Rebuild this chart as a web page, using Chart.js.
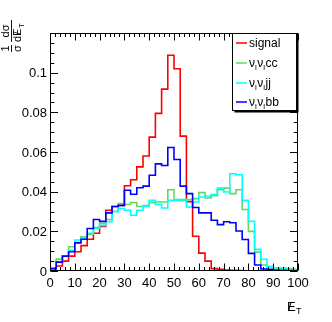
<!DOCTYPE html>
<html>
<head>
<meta charset="utf-8">
<script src="https://cdn.jsdelivr.net/npm/chart.js@4.4.0/dist/chart.umd.min.js"></script>
<style>
html,body{margin:0;padding:0;background:#fff;}
canvas{display:block;}
</style>
</head>
<body>
<canvas id="c" width="332" height="322"></canvas>
<script>
// ---- data ----
const binEdges = [0,2.5,5,7.5,10,12.5,15,17.5,20,22.5,25,27.5,30,32.5,35,37.5,40,42.5,45,47.5,50,52.5,55,57.5,60,62.5,65,67.5,70,72.5,75,77.5,80,82.5,85,87.5,90,92.5,95,97.5,100];
const signal = [0.001,0.0025,0.005,0.0075,0.0097,0.0128,0.016,0.019,0.0225,0.0306,0.0325,0.033,0.043,0.046,0.0525,0.058,0.0675,0.0795,0.0917,0.1088,0.102,0.068,0.035,0.0175,0.009,0.005,0.0012,0.0008,0.0005,0.0003,0.0002,0.0001,0.0001,0,0,0,0,0,0,0];
const nunucc = [0.0015,0.006,0.0075,0.0122,0.0144,0.0172,0.0186,0.0219,0.024,0.026,0.030,0.034,0.0335,0.0345,0.0325,0.033,0.0345,0.0348,0.0348,0.041,0.036,0.0356,0.036,0.0365,0.0395,0.0368,0.038,0.041,0.0418,0.039,0.041,0.031,0.020,0.0095,0.003,0.0022,0.0015,0.0015,0.0012,0.0008];
const nunujj = [0.0008,0.0047,0.0075,0.0105,0.0156,0.0164,0.019,0.0214,0.023,0.0248,0.030,0.0315,0.0306,0.0281,0.0306,0.0326,0.0356,0.0335,0.0318,0.0356,0.0356,0.036,0.0323,0.0348,0.0373,0.0378,0.0385,0.0418,0.0398,0.049,0.0485,0.0356,0.0251,0.0109,0.0059,0.0022,0.0015,0.0012,0.0008,0.0005];
const nunubb = [0.0012,0.0045,0.0075,0.0097,0.0142,0.016,0.0214,0.026,0.025,0.0293,0.0325,0.0331,0.0407,0.0387,0.042,0.0428,0.0483,0.054,0.0532,0.0623,0.0562,0.0428,0.039,0.032,0.0293,0.0293,0.0256,0.0234,0.0248,0.0243,0.0202,0.0159,0.0089,0.003,0.001,0.0008,0.0005,0.0003,0.0002,0.0001];
const xTickValues = [0,10,20,30,40,50,60,70,80,90,100];
const xTickLabels = ['0','10','20','30','40','50','60','70','80','90','100'];
const yTickValues = [0,0.02,0.04,0.06,0.08,0.1];
const yTickLabels = ['0','0.02','0.04','0.06','0.08','0.1'];
const seriesNames = ['signal','ννcc','ννjj','ννbb'];
const seriesColors = ['#ff0000','#5fdc5f','#00ffff','#0000ff'];

function toSteps(vals){
  const pts = [];
  for (let i=0;i<vals.length;i++) pts.push({x:binEdges[i], y:vals[i]});
  pts.push({x:binEdges[vals.length], y:vals[vals.length-1]});
  return pts;
}

const FONT = '"Liberation Sans", Arial, sans-serif';

function drawNuLabel(ctx, x, y, suffix){
  let cx = x;
  for (let k=0;k<2;k++){
    ctx.font = '12px ' + FONT;
    ctx.fillText('ν', cx, y);
    cx += ctx.measureText('ν').width;
    ctx.font = '8px ' + FONT;
    ctx.fillText('l', cx, y+3);
    cx += ctx.measureText('l').width + 0.5;
  }
  ctx.font = '12px ' + FONT;
  ctx.fillText(suffix, cx, y);
}

const rootPlugin = {
  id: 'rootStyle',
  beforeDraw(chart){
    const ctx = chart.ctx;
    ctx.save(); ctx.fillStyle='#fff'; ctx.fillRect(0,0,chart.width,chart.height); ctx.restore();
  },
  afterDatasetsDraw(chart){
    const ctx = chart.ctx, ca = chart.chartArea, xs = chart.scales.x, ys = chart.scales.y;
    const L = Math.round(ca.left)+0.5, R = Math.round(ca.right)-0.5, T = Math.round(ca.top)+0.5, B = Math.round(ca.bottom)-0.5;
    ctx.save();
    ctx.strokeStyle = '#000'; ctx.lineWidth = 1;
    ctx.strokeRect(L, T, R-L, B-T);
    ctx.beginPath();
    for (let v=0; v<=100; v+=2){
      const px = Math.round(xs.getPixelForValue(v))+0.5;
      const len = (v%10===0) ? 7 : 3.5;
      ctx.moveTo(px, B); ctx.lineTo(px, B-len);
      ctx.moveTo(px, T); ctx.lineTo(px, T+len);
    }
    for (let k=0; k<=24; k++){
      const v = k*0.005;
      const py = Math.round(ys.getPixelForValue(v))+0.5;
      const len = (k%4===0) ? 7.5 : 3.8;
      ctx.moveTo(L, py); ctx.lineTo(L+len, py);
      ctx.moveTo(R, py); ctx.lineTo(R-len, py);
    }
    ctx.stroke();
    ctx.fillStyle = '#000';
    ctx.font = '13px ' + FONT;
    ctx.textAlign = 'center'; ctx.textBaseline = 'alphabetic';
    xTickValues.forEach((v,i)=>{
      ctx.fillText(xTickLabels[i], xs.getPixelForValue(v), 287);
    });
    ctx.textAlign = 'right';
    yTickValues.forEach((v,i)=>{
      ctx.fillText(yTickLabels[i], 47, ys.getPixelForValue(v)+4.6);
    });
    // x title: missing E_T
    ctx.textAlign = 'left';
    ctx.font = '13px ' + FONT;
    ctx.fillText('E', 287, 311);
    ctx.fillText('/', 288, 311);
    ctx.font = '9px ' + FONT;
    ctx.fillText('T', 296, 314);
    // y title
    ctx.save();
    ctx.translate(11, 36);
    ctx.rotate(-Math.PI/2);
    ctx.font = '11px ' + FONT;
    ctx.textAlign = 'center';
    const w1 = 7, gap = 3, w2 = 22;
    const start = -(w1+gap+w2)/2;
    const c1 = start + w1/2, c2 = start + w1 + gap + w2/2;
    ctx.fillText('1', c1, -2.5);
    ctx.fillText('σ', c1, 9.5);
    ctx.fillText('dσ', c2, -2.5);
    ctx.textAlign = 'left';
    const dx = c2 - w2/2;
    ctx.fillText('dE', dx, 9.5);
    const dw = ctx.measureText('d').width, dew = ctx.measureText('dE').width;
    ctx.fillText('/', dx+dw+1.5, 9.5);
    ctx.font = '7.5px ' + FONT;
    ctx.fillText('T', dx+dew+0.5, 12.5);
    ctx.lineWidth = 0.9;
    ctx.beginPath();
    ctx.moveTo(start, 0.5); ctx.lineTo(start+w1, 0.5);
    ctx.moveTo(start+w1+gap, 0.5); ctx.lineTo(start+w1+gap+w2, 0.5);
    ctx.stroke();
    ctx.restore();
    // legend box
    const lx = 232.5, ly = 33.5, lw = 64, lh = 77;
    ctx.fillStyle = '#000';
    ctx.fillRect(lx+2, ly+2, lw, lh);
    ctx.fillStyle = '#fff';
    ctx.fillRect(lx, ly, lw, lh);
    ctx.strokeStyle = '#000'; ctx.lineWidth = 1;
    ctx.strokeRect(lx, ly, lw, lh);
    const rows = [43, 63, 83, 102];
    ctx.textAlign = 'left';
    seriesNames.forEach((name,i)=>{
      ctx.strokeStyle = seriesColors[i]; ctx.lineWidth = 1.5;
      ctx.beginPath(); ctx.moveTo(236, rows[i]); ctx.lineTo(247, rows[i]); ctx.stroke();
      ctx.fillStyle = '#000';
      if (i===0){ ctx.font = '12px ' + FONT; ctx.fillText(name, 249, rows[i]+4.3); }
      else drawNuLabel(ctx, 249, rows[i]+4.3, name.slice(2));
    });
    ctx.restore();
  }
};

const datasets = [
  {label:'signal', data: toSteps(signal), borderColor: seriesColors[0], order: 4},
  {label:'ννcc', data: toSteps(nunucc), borderColor: seriesColors[1], order: 3},
  {label:'ννjj', data: toSteps(nunujj), borderColor: seriesColors[2], order: 2},
  {label:'ννbb', data: toSteps(nunubb), borderColor: seriesColors[3], order: 1}
].map(d=>Object.assign(d,{stepped:'before', borderWidth:1.6, pointRadius:0, fill:false, tension:0}));

new Chart(document.getElementById('c'), {
  type: 'line',
  data: {datasets},
  options: {
    responsive: false,
    animation: false,
    devicePixelRatio: 1,
    layout: {padding: {left: 50, right: 34, top: 33, bottom: 51}},
    scales: {
      x: {type:'linear', min:0, max:100, display:false},
      y: {type:'linear', min:0, max:0.12, display:false}
    },
    plugins: {legend:{display:false}, tooltip:{enabled:false}}
  },
  plugins: [rootPlugin]
});
</script>
</body>
</html>
